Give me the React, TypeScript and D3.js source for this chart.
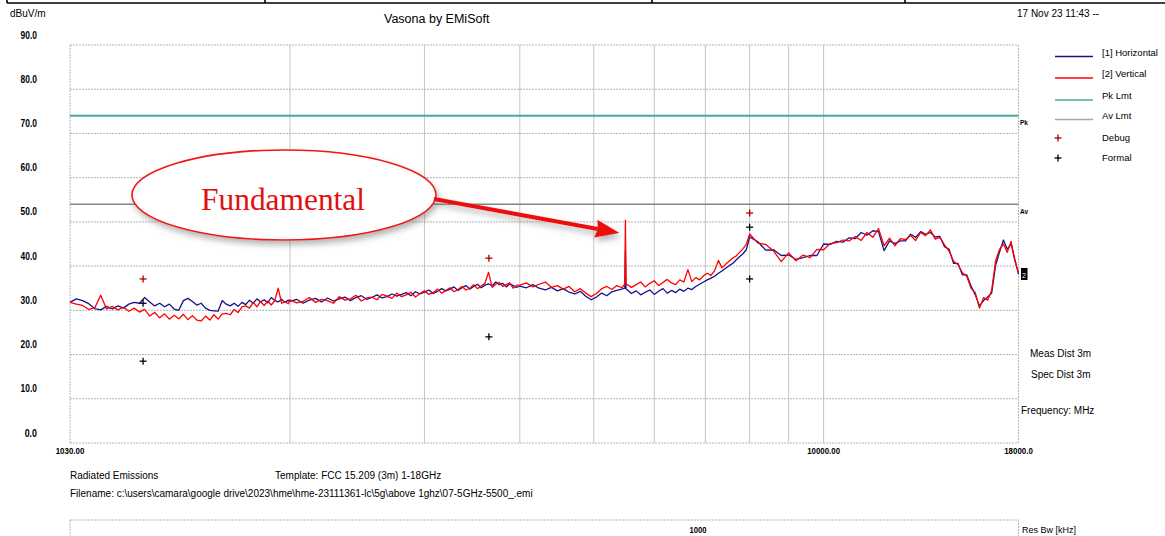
import React from "react";
import * as d3 from "d3";

// ---------- data ----------
const freqA = [1030, 1050, 1070, 1090, 1110, 1130, 1150, 1170, 1190, 1210, 1230, 1250, 1270, 1290, 1310, 1330, 1350, 1370, 1390, 1410, 1430, 1450, 1470, 1490, 1510, 1530, 1550, 1570, 1590, 1610, 1630, 1650, 1670, 1690, 1710, 1730, 1750, 1770, 1790, 1810, 1830, 1850, 1870, 1890, 1910, 1930, 1950, 1970, 1990];
const vertA = [31.8, 31.4, 31.1, 30.2, 30.6, 33.4, 30.3, 30.9, 30.1, 30.7, 29.8, 30.5, 29.6, 30.2, 28.7, 29.5, 28.3, 29.2, 28.0, 28.9, 28.1, 29.1, 27.9, 28.8, 27.8, 27.6, 28.7, 27.8, 29.0, 28.0, 29.2, 29.3, 29.0, 30.2, 29.5, 30.8, 31.0, 30.5, 31.8, 30.8, 32.0, 31.1, 32.1, 31.2, 32.2, 35.0, 31.6, 31.9, 31.5];
const horzA = [31.8, 32.6, 32.2, 31.5, 30.4, 30.1, 30.9, 30.3, 31.0, 30.5, 31.4, 31.8, 31.6, 32.9, 31.9, 31.0, 31.6, 30.8, 31.4, 30.3, 30.0, 32.2, 32.7, 32.0, 31.2, 31.6, 30.5, 30.0, 29.9, 29.8, 32.2, 31.4, 31.0, 31.6, 30.9, 31.8, 31.3, 32.3, 31.6, 32.6, 31.9, 32.4, 31.7, 32.9, 32.2, 31.9, 32.5, 31.8, 32.3];

const freqB = [2000, 2040, 2080, 2120, 2160, 2200, 2240, 2280, 2320, 2360, 2400, 2440, 2480, 2520, 2560, 2600, 2640, 2680, 2720, 2760, 2800, 2840, 2880, 2920, 2960, 3000, 3040, 3080, 3120, 3160, 3200, 3240, 3280, 3320, 3360, 3400, 3440, 3480, 3520, 3560, 3600, 3640, 3680, 3720, 3760, 3800, 3840, 3880, 3920, 3960];
const vertB = [32.4, 31.7, 32.0, 32.9, 31.8, 32.5, 32.2, 31.6, 33.1, 32.3, 32.6, 33.4, 32.1, 32.8, 33.0, 32.4, 33.6, 33.2, 32.7, 33.9, 33.1, 33.5, 34.1, 33.0, 33.8, 34.4, 33.6, 34.0, 34.8, 33.9, 34.5, 35.1, 34.2, 34.7, 35.4, 34.6, 35.0, 35.8, 34.9, 35.5, 36.1, 38.6, 35.2, 35.9, 36.3, 35.4, 35.8, 36.2, 35.0, 35.7];
const horzB = [32.0, 32.5, 31.6, 32.3, 32.7, 31.9, 32.8, 32.1, 32.6, 33.0, 32.2, 32.9, 33.3, 32.5, 32.9, 33.5, 32.8, 33.1, 33.7, 33.2, 33.6, 34.0, 33.3, 34.2, 33.7, 34.1, 34.6, 33.8, 34.3, 34.9, 34.4, 34.8, 35.3, 34.5, 35.1, 35.6, 34.8, 35.4, 35.9, 35.1, 35.7, 36.0, 35.5, 36.4, 35.8, 36.1, 35.3, 36.0, 35.6, 35.2];

const freqC = [4000, 4080, 4160, 4240, 4320, 4400, 4480, 4560, 4640, 4720, 4800, 4880, 4960, 5040, 5120, 5200, 5280, 5360, 5440, 5490, 5500, 5510, 5600, 5680, 5760, 5840, 5920, 6000, 6080, 6160, 6240, 6320, 6400, 6480, 6560, 6640, 6720, 6800, 6880, 6960, 7040, 7120, 7200, 7280, 7360, 7440, 7520, 7600, 7680, 7760, 7840, 7920];
const vertC = [35.7, 36.2, 35.3, 35.9, 36.4, 35.2, 35.6, 34.8, 35.4, 34.2, 34.9, 33.9, 33.1, 33.8, 34.9, 35.4, 34.7, 35.6, 35.1, 35.9, 50.4, 36.0, 35.2, 35.8, 36.4, 35.3, 36.1, 36.7, 35.6, 36.3, 37.0, 36.2, 35.8, 36.9, 36.4, 39.2, 36.5, 37.4, 36.9, 37.8, 38.4, 37.9, 39.0, 41.3, 39.6, 40.4, 41.1, 41.8, 42.3, 43.1, 43.9, 44.9];
const horzC = [35.5, 35.1, 35.8, 35.0, 34.6, 35.2, 34.4, 34.9, 34.1, 33.7, 34.3, 33.2, 32.4, 33.0, 33.9, 33.3, 34.2, 34.5, 34.8, 35.0, 43.6, 34.9, 33.8, 34.4, 33.5, 34.1, 34.6, 33.6, 34.3, 34.9, 33.9, 34.5, 34.0, 34.8, 34.3, 35.0, 34.7, 35.4, 35.9, 36.4, 36.9, 37.3, 37.7, 38.4, 38.9, 39.5, 40.1, 40.6, 41.4, 42.1, 42.8, 43.7];

const freqD = [8000, 8200, 8400, 8600, 8800, 9000, 9200, 9400, 9600, 9800, 10000, 10200, 10400, 10600, 10800, 11000, 11200, 11400, 11600, 11800, 12000, 12200, 12400, 12600, 12800, 13000, 13200, 13400, 13600, 13800, 14000, 14200, 14400, 14600, 14800, 15000, 15200, 15400, 15600, 15800, 16000, 16200, 16400, 16600, 16800, 17000, 17200, 17400, 17600, 17800, 18000];
const vertD = [47.3, 45.2, 44.9, 43.4, 41.0, 43.0, 41.2, 42.5, 41.9, 43.8, 43.7, 45.1, 45.3, 45.9, 45.7, 46.7, 45.8, 47.6, 46.5, 48.5, 44.6, 46.3, 44.6, 46.2, 46.0, 46.9, 45.8, 47.6, 46.9, 48.2, 46.1, 46.5, 44.8, 43.4, 41.1, 40.3, 38.5, 37.7, 35.0, 34.0, 30.5, 32.9, 32.3, 34.5, 41.2, 43.8, 45.0, 43.1, 45.6, 41.2, 38.6];
const horzD = [46.6, 45.5, 43.6, 43.7, 42.4, 42.5, 41.5, 41.9, 42.4, 42.4, 45.0, 44.9, 45.6, 45.4, 46.4, 46.2, 47.6, 47.0, 48.0, 47.8, 43.5, 45.7, 45.1, 45.7, 45.7, 47.2, 46.5, 47.8, 47.2, 47.6, 46.6, 46.7, 44.4, 43.8, 40.6, 40.6, 38.0, 38.0, 35.5, 33.5, 31.0, 32.2, 33.0, 33.9, 40.2, 43.2, 45.9, 43.8, 45.1, 41.6, 38.2];

const pkLimit = 74;
const avLimit = 54;

const debugFreq = [1284, 3644, 8000];
const debugDb = [37.1, 41.8, 52.0];
const formalFreq = [1284, 1284, 3644, 8000, 8000];
const formalDb = [18.5, 31.6, 24.0, 48.8, 37.1];

const yTicks = [0, 10, 20, 30, 40, 50, 60, 70, 80, 90];
const xGridFreqs = [2000, 3000, 4000, 5000, 6000, 7000, 8000, 9000, 10000];
const xLabelFreqs = [1030, 10000, 18000];
const xLabelTexts = ["1030.00", "10000.00", "18000.0"];

const legendNames = ["[1] Horizontal", "[2] Vertical", "Pk Lmt", "Av Lmt", "Debug", "Formal"];
const fundamentalFreq = 5500;

// ---------- styles ----------
const C_H = "#14148a";
const C_V = "#ff0000";
const C_PK = "#46a89e";
const C_AV = "#7d877d";
const C_DBG = "#a80000";
const SANS = "'Liberation Sans', Arial, sans-serif";
const NARROW = "'Liberation Sans Narrow', 'Liberation Sans', sans-serif";

export default function App() {
  const W = 1165, H = 536;
  const L = 70, R = 1018.5, T = 45, B = 443;
  const x = d3.scaleLog().domain([1030, 18000]).range([L, R]);
  const y = d3.scaleLinear().domain([0, 90]).range([B, T]);

  const freqs = [...freqA, ...freqB, ...freqC, ...freqD];
  const horz = [...horzA, ...horzB, ...horzC, ...horzD];
  const vert = [...vertA, ...vertB, ...vertC, ...vertD];

  const line = d3.line<[number, number]>().x((d) => x(d[0])).y((d) => y(d[1]));
  const hPath = line(freqs.map((f, i) => [f, horz[i]]) as [number, number][]) || "";
  const vPath = line(freqs.map((f, i) => [f, vert[i]]) as [number, number][]) || "";

  const plus = (cx: number, cy: number, color: string, key: string) => (
    <g key={key} stroke={color} strokeWidth={1.3}>
      <line x1={cx - 3.5} x2={cx + 3.5} y1={cy} y2={cy} />
      <line x1={cx} x2={cx} y1={cy - 3.5} y2={cy + 3.5} />
    </g>
  );

  // arrow geometry
  const tipX = x(fundamentalFreq) - 6;
  const tipY = y(47.5);
  const sX = 434, sY = 199;
  const dx = tipX - sX, dy = tipY - sY;
  const len = Math.hypot(dx, dy);
  const ux = dx / len, uy = dy / len;
  const headL = 24, headW = 9;
  const bx = tipX - ux * headL, by = tipY - uy * headL;
  const head = `${tipX},${tipY} ${bx - uy * headW},${by + ux * headW} ${bx + 2 * ux},${by + 2 * uy} ${bx + uy * headW},${by - ux * headW}`;

  const legendY = [52, 73, 95, 115, 137, 157];

  return (
    <svg width={W} height={H} style={{ position: "absolute", left: 0, top: 0, background: "#fff" }}>
      <defs>
        <filter id="shadow" x="-20%" y="-30%" width="140%" height="170%">
          <feDropShadow dx="2" dy="4" stdDeviation="3" floodColor="#777" floodOpacity="0.55" />
        </filter>
      </defs>
      <rect width={W} height={H} fill="#fff" />

      {/* top table lines */}
      <g stroke="#000" strokeWidth={1.6}>
        <line x1={7} x2={W} y1={3} y2={3} />
        <line x1={7} x2={7} y1={0} y2={3} />
        <line x1={265} x2={265} y1={0} y2={3} />
        <line x1={652} x2={652} y1={0} y2={3} />
        <line x1={905} x2={905} y1={0} y2={3} />
      </g>

      {/* header texts */}
      <text x={10} y={17} fontFamily={SANS} fontSize={10}>dBuV/m</text>
      <text x={384} y={23} fontFamily={SANS} fontSize={12.5}>Vasona by EMiSoft</text>
      <text x={1017} y={17} fontFamily={SANS} fontSize={10}>17 Nov 23 11:43 --</text>

      {/* grid */}
      <g>
        {xGridFreqs.map((f) => (
          <line key={f} x1={x(f)} x2={x(f)} y1={T} y2={B} stroke="#c4c4c4" strokeWidth={1} />
        ))}
        {yTicks.map((t) => (
          <line key={t} x1={L} x2={R} y1={y(t)} y2={y(t)} stroke="#b4b4b4" strokeWidth={1} strokeDasharray="2 1" />
        ))}
        <line x1={L} x2={L} y1={T} y2={B} stroke="#b4b4c4" strokeDasharray="2 1" />
        <line x1={R} x2={R} y1={T} y2={B} stroke="#b4b4b4" strokeDasharray="2 1" />
      </g>

      {/* y labels */}
      {yTicks.map((t) => {
        const s = t.toFixed(1);
        return (
          <text key={t} x={37} y={y(t) - 6.5} textAnchor="end" fontFamily={NARROW} fontWeight="bold" fontSize={10}
            textLength={s.length * 4.1} lengthAdjust="spacingAndGlyphs">
            {s}
          </text>
        );
      })}
      {/* x labels */}
      {xLabelFreqs.map((f, i) => (
        <text key={f} x={x(f)} y={454} textAnchor="middle" fontFamily={NARROW} fontWeight="bold" fontSize={9.5}
          textLength={xLabelTexts[i].length * 4.1} lengthAdjust="spacingAndGlyphs">
          {xLabelTexts[i]}
        </text>
      ))}

      {/* limit lines */}
      <line x1={L} x2={R} y1={y(pkLimit)} y2={y(pkLimit)} stroke={C_PK} strokeWidth={2} />
      <line x1={L} x2={R} y1={y(avLimit)} y2={y(avLimit)} stroke={C_AV} strokeWidth={1.5} />
      <text x={1020} y={y(pkLimit) + 9} fontFamily={NARROW} fontWeight="bold" fontSize={8} textLength={8} lengthAdjust="spacingAndGlyphs">Pk</text>
      <text x={1020} y={y(avLimit) + 10} fontFamily={NARROW} fontWeight="bold" fontSize={8} textLength={8} lengthAdjust="spacingAndGlyphs">Av</text>
      <rect x={1021} y={y(38) - 7} width={6.5} height={12} fill="#000" />
      <text x={1022} y={y(38) + 3} fill="#fff" fontFamily={NARROW} fontSize={7}>2</text>

      {/* traces */}
      <path d={hPath} fill="none" stroke={C_H} strokeWidth={1.3} strokeLinejoin="round" />
      <path d={vPath} fill="none" stroke={C_V} strokeWidth={1.3} strokeLinejoin="round" />

      {/* markers */}
      {debugFreq.map((f, i) => plus(x(f), y(debugDb[i]), C_DBG, `d${i}`))}
      {formalFreq.map((f, i) => plus(x(f), y(formalDb[i]), "#000", `f${i}`))}

      {/* annotation */}
      <ellipse cx={284} cy={195} rx={152} ry={45} fill="#fff" stroke="#f01515" strokeWidth={1.6} filter="url(#shadow)" />
      <text x={283} y={210} textAnchor="middle" fill="#e01010" fontFamily="'Liberation Serif', 'Times New Roman', serif" fontSize={31}
        textLength={164} lengthAdjust="spacingAndGlyphs">
        Fundamental
      </text>
      <g filter="url(#shadow)" fill="#ee1111" stroke="none">
        <line x1={sX} y1={sY} x2={bx + ux * 2} y2={by + uy * 2} stroke="#ee1111" strokeWidth={4} />
        <polygon points={head} />
      </g>

      {/* legend */}
      {legendNames.map((n, i) => (
        <text key={n} x={1102} y={legendY[i] + 4} fontFamily={SANS} fontSize={9.5}>{n}</text>
      ))}
      <line x1={1055} x2={1093} y1={56.5} y2={56.5} stroke={C_H} strokeWidth={1.5} />
      <line x1={1055} x2={1093} y1={78} y2={78} stroke={C_V} strokeWidth={1.5} />
      <line x1={1055} x2={1093} y1={100} y2={100} stroke={C_PK} strokeWidth={1.5} />
      <line x1={1055} x2={1093} y1={119.5} y2={119.5} stroke="#a8a8a8" strokeWidth={1.5} />
      {plus(1058, 138, C_DBG, "ld")}
      {plus(1058, 158, "#000", "lf")}

      {/* right side notes */}
      <text x={1030} y={356.5} fontFamily={SANS} fontSize={10}>Meas Dist 3m</text>
      <text x={1031} y={378} fontFamily={SANS} fontSize={10}>Spec Dist 3m</text>
      <text x={1021} y={414} fontFamily={SANS} fontSize={10}>Frequency: MHz</text>

      {/* footer */}
      <text x={70} y={479} fontFamily={SANS} fontSize={10}>Radiated Emissions</text>
      <text x={275} y={479} fontFamily={SANS} fontSize={10}>Template: FCC 15.209 (3m) 1-18GHz</text>
      <text x={70} y={497} fontFamily={SANS} fontSize={10}>
        {"Filename: c:\\users\\camara\\google drive\\2023\\hme\\hme-23111361-lc\\5g\\above 1ghz\\07-5GHz-5500_.emi"}
      </text>

      {/* bottom panel */}
      <line x1={L} x2={R} y1={520} y2={520} stroke="#b4b4b4" strokeDasharray="2 1" />
      <line x1={L} x2={L} y1={520} y2={H} stroke="#b4b4c4" strokeDasharray="2 1" />
      <line x1={R} x2={R} y1={520} y2={H} stroke="#b4b4b4" strokeDasharray="2 1" />
      <text x={698} y={533} textAnchor="middle" fontFamily={NARROW} fontWeight="bold" fontSize={9} textLength={17} lengthAdjust="spacingAndGlyphs">1000</text>
      <text x={1022} y={533} fontFamily={NARROW} fontSize={9}>Res Bw [kHz]</text>
    </svg>
  );
}
